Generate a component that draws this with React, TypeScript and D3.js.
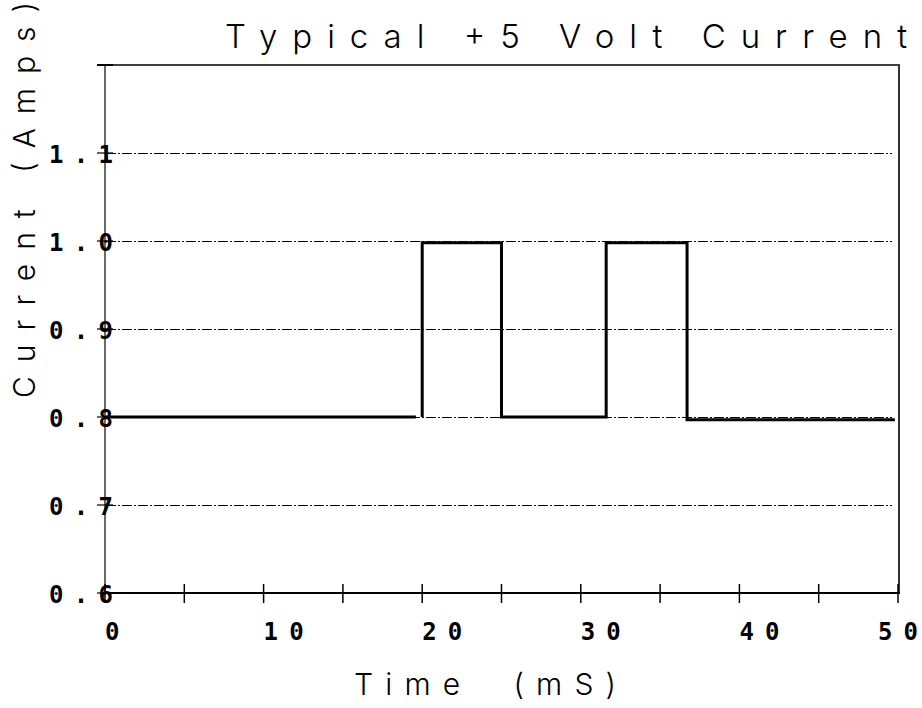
import React from "react";
import * as d3 from "d3";

// ---- data ----
const baselineTime = [0, 19.6];
const baselineCurrent = [0.8, 0.8];
const pulseTime = [20, 20, 25, 25, 31.6, 31.6, 36.7, 36.7, 49.8];
const pulseCurrent = [0.8, 0.998, 0.998, 0.8, 0.8, 0.998, 0.998, 0.797, 0.797];

const xMajorTicks = [0, 10, 20, 30, 40, 50];
const xMinorTicks = [5, 15, 25, 35, 45];
const yTicks = [0.6, 0.7, 0.8, 0.9, 1.0, 1.1, 1.2];
const yGridValues = [0.7, 0.8, 0.9, 1.0, 1.1];
const yTickLabels = ["0.6", "0.7", "0.8", "0.9", "1.0", "1.1"];

const title = "Typical +5 Volt Current";
const xTitle = "Time  (mS)";
const yTitle = "Current (Amps)";

const W = 922;
const H = 708;
const left = 105;
const right = 898;
const top = 65;
const bottom = 593;

const thinFont = "Inter, 'DejaVu Sans', sans-serif";
const monoFont = "'DejaVu Sans Mono', 'Liberation Mono', monospace";

export default function App() {
  const x = d3.scaleLinear().domain([0, 50]).range([left, right]);
  const y = d3.scaleLinear().domain([0.6, 1.2]).range([bottom, top]);

  const line = d3
    .line<[number, number]>()
    .x((d) => x(d[0]))
    .y((d) => y(d[1]));

  const seg1 = line(baselineTime.map((t, i) => [t, baselineCurrent[i]] as [number, number])) || "";
  const seg2 = line(pulseTime.map((t, i) => [t, pulseCurrent[i]] as [number, number])) || "";

  return (
    <svg
      width={W}
      height={H}
      viewBox={`0 0 ${W} ${H}`}
      style={{ position: "absolute", left: 0, top: 0, background: "#fff" }}
    >
      <rect x={0} y={0} width={W} height={H} fill="#fff" />

      {/* title */}
      <text
        x={225}
        y={48}
        fontFamily={thinFont}
        fontWeight={300}
        fontSize={33}
        textLength={682}
        lengthAdjust="spacing"
        fill="#000"
      >
        {title}
      </text>

      {/* gridlines */}
      {yGridValues.map((v) => (
        <line
          key={"g" + v}
          x1={left + 1}
          x2={892}
          y1={y(v) + 0.5}
          y2={y(v) + 0.5}
          stroke="#000"
          strokeWidth={1}
          strokeDasharray="10 2 2 2"
          shapeRendering="crispEdges"
        />
      ))}

      {/* frame */}
      <line x1={97} x2={right + 2} y1={top} y2={top} stroke="#000" strokeWidth={1.5} />
      <line x1={right + 1} x2={right + 1} y1={top} y2={bottom} stroke="#333" strokeWidth={2} />
      <line x1={left} x2={left} y1={top} y2={bottom + 2} stroke="#444" strokeWidth={1.6} />
      <line x1={left} x2={right + 2} y1={bottom} y2={bottom} stroke="#000" strokeWidth={2.2} />

      {/* y ticks */}
      {yTicks.map((v) => (
        <line
          key={"yt" + v}
          x1={97}
          x2={113}
          y1={y(v)}
          y2={y(v)}
          stroke="#000"
          strokeWidth={v === 1.2 ? 2 : 1.2}
        />
      ))}

      {/* x ticks */}
      {[...xMajorTicks, ...xMinorTicks].map((v) => (
        <line
          key={"xt" + v}
          x1={x(v)}
          x2={x(v)}
          y1={bottom - 9}
          y2={bottom + 10}
          stroke="#000"
          strokeWidth={1.5}
        />
      ))}

      {/* data */}
      <path d={seg1} fill="none" stroke="#000" strokeWidth={3.2} />
      <path d={seg2} fill="none" stroke="#000" strokeWidth={3} strokeLinejoin="miter" />

      {/* y tick labels */}
      {yTickLabels.map((lab) => (
        <text
          key={"yl" + lab}
          x={49}
          y={y(+lab) + 10}
          fontFamily={monoFont}
          fontWeight={700}
          fontSize={24}
          textLength={64}
          lengthAdjust="spacing"
          fill="#000"
        >
          {lab}
        </text>
      ))}

      {/* x tick labels */}
      {xMajorTicks.map((v) => {
        const lab = String(v);
        const len = lab.length === 1 ? 14 : 40;
        const px = Math.min(x(v), 918 - len);
        return (
          <text
            key={"xl" + v}
            x={px}
            y={640}
            fontFamily={monoFont}
            fontWeight={700}
            fontSize={24}
            textLength={len}
            lengthAdjust="spacing"
            fill="#000"
          >
            {lab}
          </text>
        );
      })}

      {/* x title */}
      <text
        x={354}
        y={695}
        fontFamily={thinFont}
        fontWeight={300}
        fontSize={30}
        textLength={262}
        lengthAdjust="spacing"
        fill="#000"
        style={{ whiteSpace: "pre" }}
        xmlSpace="preserve"
      >
        {xTitle}
      </text>

      {/* y title */}
      <text
        transform="translate(35,398) rotate(-90)"
        x={0}
        y={0}
        fontFamily={thinFont}
        fontWeight={300}
        fontSize={30}
        textLength={396}
        lengthAdjust="spacing"
        fill="#000"
      >
        {yTitle}
      </text>
    </svg>
  );
}
